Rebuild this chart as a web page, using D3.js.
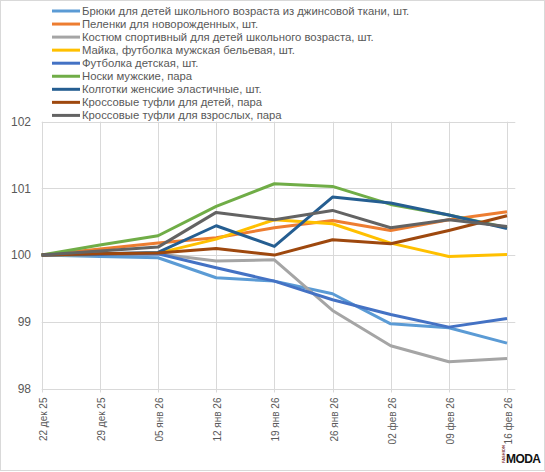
<!DOCTYPE html>
<html>
<head>
<meta charset="utf-8">
<script src="https://cdn.jsdelivr.net/npm/d3@7"></script>
<style>
  body { margin: 0; background: #fff; }
  text { font-family: "Liberation Sans", Arial, sans-serif; }
</style>
</head>
<body>
<div id="chart"></div>
<script>
// weekly dates
const dates = ["2025-12-22", "2025-12-29", "2026-01-05", "2026-01-12", "2026-01-19",
               "2026-01-26", "2026-02-02", "2026-02-09", "2026-02-16"];
const monthsRu = ["янв", "фев", "мар", "апр", "май", "июн", "июл", "авг", "сен", "окт", "ноя", "дек"];

const seriesNames = [
    "Брюки для детей школьного возраста из джинсовой ткани, шт.",
    "Пеленки для новорожденных, шт.",
    "Костюм спортивный для детей школьного возраста, шт.",
    "Майка, футболка мужская бельевая, шт.",
    "Футболка детская, шт.",
    "Носки мужские, пара",
    "Колготки женские эластичные, шт.",
    "Кроссовые туфли для детей, пара",
    "Кроссовые туфли для взрослых, пара"
];
const seriesColors = ["#5B9BD5", "#ED7D31", "#A5A5A5", "#FFC000", "#4472C4",
                      "#70AD47", "#255E91", "#9E480E", "#636363"];

const bryuki    = [100, 99.98, 99.96, 99.66, 99.61, 99.42, 98.97, 98.91, 98.68];
const pelenki   = [100, 100.09, 100.18, 100.26, 100.41, 100.52, 100.37, 100.53, 100.65];
const kostyum   = [100, 100.01, 100.02, 99.91, 99.93, 99.17, 98.64, 98.40, 98.45];
const mayka     = [100, 100.01, 100.03, 100.24, 100.53, 100.47, 100.18, 99.98, 100.01];
const futbolka  = [100, 100.01, 100.02, 99.81, 99.61, 99.33, 99.11, 98.92, 99.05];
const noski     = [100, 100.15, 100.29, 100.73, 101.07, 101.03, 100.76, 100.60, 100.41];
const kolgotki  = [100, 100.02, 100.04, 100.44, 100.13, 100.87, 100.78, 100.60, 100.40];
const krossDeti = [100, 100.02, 100.03, 100.10, 100.00, 100.23, 100.17, 100.37, 100.59];
const krossVzr  = [100, 100.06, 100.12, 100.64, 100.53, 100.67, 100.41, 100.53, 100.43];

const seriesValues = [bryuki, pelenki, kostyum, mayka, futbolka, noski, kolgotki, krossDeti, krossVzr];
const yTicks = [98, 99, 100, 101, 102];

const width = 545, height = 472;
const parse = d3.timeParse("%Y-%m-%d");
const dateObjs = dates.map(parse);

const svg = d3.select("#chart").append("svg")
    .attr("width", width)
    .attr("height", height);

svg.append("rect")
    .attr("x", 0.5).attr("y", 0.5)
    .attr("width", width - 1).attr("height", 470)
    .attr("fill", "#fff").attr("stroke", "#d9d9d9");

// date axis runs one day past the last point
const x = d3.scaleTime()
    .domain([dateObjs[0], d3.timeDay.offset(dateObjs[dateObjs.length - 1], 1)])
    .range([41.7, 515.3]);
const y = d3.scaleLinear().domain([98, 102]).range([388.5, 121.7]);

// Gridlines
const grid = svg.append("g");
grid.selectAll("line.h").data(yTicks).enter().append("line")
    .attr("x1", x.range()[0]).attr("x2", x.range()[1])
    .attr("y1", d => Math.round(y(d)) + 0.5).attr("y2", d => Math.round(y(d)) + 0.5)
    .attr("stroke", "#d9d9d9");
grid.selectAll("line.v").data(dateObjs).enter().append("line")
    .attr("x1", d => Math.round(x(d)) + 0.5).attr("x2", d => Math.round(x(d)) + 0.5)
    .attr("y1", y(102)).attr("y2", y(98) + 4)
    .attr("stroke", "#d9d9d9");

// Y labels
svg.selectAll("text.ylab").data(yTicks).enter().append("text")
    .attr("x", 31).attr("y", d => y(d)).attr("dy", "0.35em")
    .attr("text-anchor", "end")
    .attr("font-size", "12px").attr("fill", "#595959")
    .text(d => d);

// X labels (rotated)
const fmt = d => d3.timeFormat("%d")(d) + " " + monthsRu[d.getMonth()] + " " + d3.timeFormat("%y")(d);
svg.selectAll("text.xlab").data(dateObjs).enter().append("text")
    .attr("transform", d => `translate(${x(d) + 5},${y(98) + 9}) rotate(-90)`)
    .attr("text-anchor", "end")
    .attr("font-size", "10px").attr("fill", "#595959")
    .text(fmt);

// Lines
const line = d3.line()
    .x((d, i) => x(dateObjs[i]))
    .y(d => y(d));
svg.append("g").selectAll("path").data(seriesValues).enter().append("path")
    .attr("d", line)
    .attr("fill", "none")
    .attr("stroke", (d, i) => seriesColors[i])
    .attr("stroke-width", 3)
    .attr("stroke-linejoin", "round");

// Legend
const legend = svg.append("g");
const rows = legend.selectAll("g").data(seriesNames).enter().append("g")
    .attr("transform", (d, i) => `translate(0,${11 + i * 13.05})`);
rows.append("line")
    .attr("x1", 52).attr("x2", 80)
    .attr("stroke", (d, i) => seriesColors[i])
    .attr("stroke-width", 3);
rows.append("text")
    .attr("x", 82).attr("dy", "0.35em")
    .attr("font-size", "11.3px").attr("fill", "#595959")
    .text(d => d);

// Logo
const logo = svg.append("g").attr("transform", "translate(501,463)");
logo.append("text").attr("x", 0).attr("y", 3.5)
    .attr("transform", "rotate(-90)")
    .attr("font-size", "4px").attr("font-weight", "bold").attr("fill", "#7a1f2b")
    .text("FASHION");
logo.append("text").attr("x", 5).attr("y", 0)
    .attr("font-size", "12px").attr("font-weight", "bold").attr("fill", "#111")
    .attr("letter-spacing", "-0.6")
    .text("MODA");
</script>
</body>
</html>
